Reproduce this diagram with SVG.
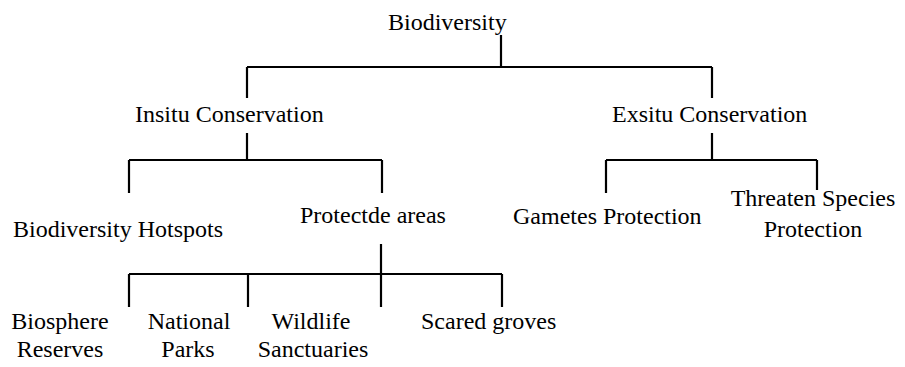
<svg xmlns="http://www.w3.org/2000/svg" width="905" height="367" viewBox="0 0 905 367">
<style>
text{font-family:"Liberation Serif","Times New Roman",serif;font-size:24px;fill:#000}
.c{text-anchor:middle}
.ln{stroke:#000;stroke-width:2.2;fill:none}
</style>
<rect width="905" height="367" fill="#fff"/>
<g id="connectors" class="ln">
<path d="M501 35V67M247 67H712M247 67V98M712 67V98"/>
<path d="M247 133V160M129 160H382M129 160V193M382 160V193"/>
<path d="M712 133V160M606 160H817M606 160V193M817 160V190"/>
<path d="M381 244V307M129 274H502M129 274V307M248 274V307M502 274V307"/>
</g>
<g id="biodiversity"><text x="388" y="30">Biodiversity</text></g>
<g id="insitu"><text x="135" y="122">Insitu Conservation</text></g>
<g id="exsitu"><text x="612" y="122">Exsitu Conservation</text></g>
<g id="hotspots"><text x="13" y="237">Biodiversity Hotspots</text></g>
<g id="protected"><text x="300" y="223">Protectde areas</text></g>
<g id="gametes"><text x="513" y="224">Gametes Protection</text></g>
<g id="threaten"><text class="c" x="813" y="206">Threaten Species</text><text class="c" x="813" y="237">Protection</text></g>
<g id="biosphere"><text class="c" x="60" y="329">Biosphere</text><text class="c" x="60" y="357">Reserves</text></g>
<g id="national"><text class="c" x="189" y="329">National</text><text class="c" x="188" y="357">Parks</text></g>
<g id="wildlife"><text class="c" x="311" y="329">Wildlife</text><text class="c" x="313" y="357">Sanctuaries</text></g>
<g id="groves"><text x="421" y="329">Scared groves</text></g>
</svg>
